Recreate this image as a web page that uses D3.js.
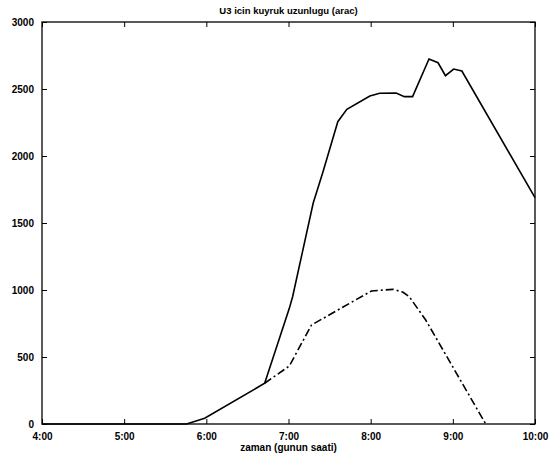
<!DOCTYPE html>
<html>
<head>
<meta charset="utf-8">
<script src="https://cdn.jsdelivr.net/npm/d3@7"></script>
<style>
  body { margin: 0; background: #fff; }
  svg text { font-family: "Liberation Sans", Arial, sans-serif; fill: #000; }
</style>
</head>
<body>
<svg id="chart" width="557" height="462"></svg>
<script>
// queue length for U3, time in hours of the day
var solidHours = [4, 5.76, 5.98, 6.71, 7.01, 7.05, 7.30, 7.42, 7.60, 7.71, 7.99, 8.11, 8.31, 8.41, 8.51, 8.71, 8.82, 8.91, 9.01, 9.11, 10]
var solidValues = [0, 0, 43, 304, 863, 950, 1647, 1883, 2256, 2348, 2448, 2468, 2470, 2443, 2443, 2724, 2696, 2599, 2649, 2634, 1690]

var dashHours = [6.71, 7.01, 7.28, 8.01, 8.27, 8.39, 8.47, 8.67, 9.40]
var dashValues = [304, 433, 739, 993, 1005, 985, 950, 776, 0]

var xTicks = [4, 5, 6, 7, 8, 9, 10]
var xTickLabels = ['4:00', '5:00', '6:00', '7:00', '8:00', '9:00', '10:00']
var yTicks = [0, 500, 1000, 1500, 2000, 2500, 3000]

var titleText = 'U3 icin kuyruk uzunlugu (arac)'
var xLabelText = 'zaman (gunun saati)'

// plot box (window.top is taken, so prefix these)
var pLeft = 42, pRight = 535, pTop = 22, pBottom = 424

var svg = d3.select('#chart')

var x = d3.scaleLinear().domain([4, 10]).range([pLeft, pRight])
var y = d3.scaleLinear().domain([0, 3000]).range([pBottom, pTop])

// axes, matlab style ticks pointing inward
var fmt = function (d) { return xTickLabels[xTicks.indexOf(d)] }

svg.append('g')
  .attr('transform', 'translate(0,' + pBottom + ')')
  .call(d3.axisBottom(x).tickValues(xTicks).tickFormat(fmt).tickSizeInner(-5).tickSizeOuter(0).tickPadding(9))
svg.append('g')
  .attr('transform', 'translate(0,' + pTop + ')')
  .call(d3.axisTop(x).tickValues(xTicks).tickFormat('').tickSizeInner(-5).tickSizeOuter(0))
svg.append('g')
  .attr('transform', 'translate(' + pLeft + ',0)')
  .call(d3.axisLeft(y).tickValues(yTicks).tickFormat(d3.format('d')).tickSizeInner(-5).tickSizeOuter(0).tickPadding(8))
svg.append('g')
  .attr('transform', 'translate(' + pRight + ',0)')
  .call(d3.axisRight(y).tickValues(yTicks).tickFormat('').tickSizeInner(-5).tickSizeOuter(0))

svg.selectAll('.domain').remove()
svg.selectAll('.tick line').attr('stroke', '#000').attr('stroke-width', 1)
svg.selectAll('.tick text').attr('font-size', 10).attr('font-weight', 'bold')

svg.append('rect')
  .attr('x', pLeft).attr('y', pTop)
  .attr('width', pRight - pLeft).attr('height', pBottom - pTop)
  .attr('fill', 'none').attr('stroke', '#000').attr('stroke-width', 1.3)

var line = d3.line()
  .x(function (d) { return x(d[0]) })
  .y(function (d) { return y(d[1]) })

svg.append('path')
  .datum(d3.zip(solidHours, solidValues))
  .attr('d', line)
  .attr('fill', 'none').attr('stroke', '#000').attr('stroke-width', 1.6)

svg.append('path')
  .datum(d3.zip(dashHours, dashValues))
  .attr('d', line)
  .attr('fill', 'none').attr('stroke', '#000').attr('stroke-width', 1.6)
  .attr('stroke-dasharray', '8,3,2,3')

svg.append('text')
  .attr('x', (pLeft + pRight) / 2).attr('y', 14)
  .attr('text-anchor', 'middle')
  .attr('font-size', 9.5).attr('font-weight', 'bold')
  .text(titleText)

svg.append('text')
  .attr('x', (pLeft + pRight) / 2).attr('y', 451)
  .attr('text-anchor', 'middle')
  .attr('font-size', 10).attr('font-weight', 'bold')
  .text(xLabelText)
</script>
</body>
</html>
